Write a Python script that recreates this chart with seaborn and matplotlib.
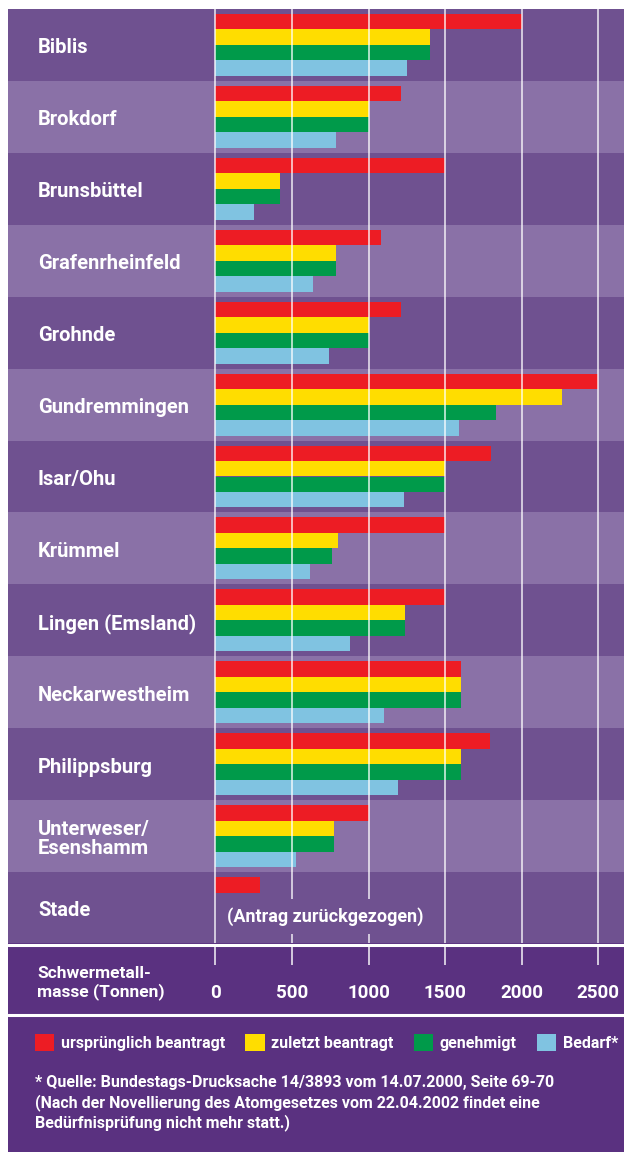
import numpy as np
import pandas as pd
import matplotlib.pyplot as plt
from matplotlib.patches import Patch
import seaborn as sns

# ---------------------------------------------------------
# data (Schwermetallmasse in Tonnen)
# ---------------------------------------------------------
plants = ["Biblis", "Brokdorf", "Brunsbüttel", "Grafenrheinfeld", "Grohnde",
          "Gundremmingen", "Isar/Ohu", "Krümmel", "Lingen (Emsland)",
          "Neckarwestheim", "Philippsburg", "Unterweser/\nEsenshamm", "Stade"]
urspruenglich = [2000, 1210, 1500, 1080, 1210, 2495, 1800, 1500, 1500, 1605, 1790, 1000, 295]
zuletzt       = [1400, 1000, 420, 790, 1000, 2260, 1500, 800, 1235, 1605, 1605, 775, np.nan]
genehmigt     = [1400, 1000, 420, 790, 1000, 1830, 1500, 765, 1235, 1605, 1605, 775, np.nan]
bedarf        = [1250, 790, 255, 640, 745, 1590, 1230, 615, 880, 1100, 1190, 530, np.nan]
series = ["ursprünglich beantragt", "zuletzt beantragt", "genehmigt", "Bedarf*"]
ticks = [0, 500, 1000, 1500, 2000, 2500]

colors = ["#ed1c24", "#ffdd00", "#009a4a", "#80c3e1"]
DARK, LIGHT, BOTTOM = "#6f5190", "#8a71a7", "#5a3180"

df = pd.DataFrame({"plant": plants, series[0]: urspruenglich, series[1]: zuletzt,
                   series[2]: genehmigt, series[3]: bedarf})
long = df.melt(id_vars="plant", var_name="status", value_name="tonnen").dropna()

# ---------------------------------------------------------
# layout helpers (pixel geometry of the 624x1152 picture)
# ---------------------------------------------------------
W, H = 624, 1152
X0, PX_T = 215.3, 383 / 2500          # pixel of value 0, pixels per tonne
xlo = (8 - X0) / PX_T
xhi = (W - X0) / PX_T
def xdata(px):
    return (px - X0) / PX_T

sns.set_theme(style="white")
plt.rcParams["font.family"] = ["Roboto", "DejaVu Sans"]
plt.rcParams["font.weight"] = "bold"

fig = plt.figure(figsize=(W / 100, H / 100), dpi=100, facecolor="white")

# ---------------------------------------------------------
# main chart
# ---------------------------------------------------------
ax = fig.add_axes([8 / W, 1 - 944 / H, (W - 8) / W, (944 - 9) / H])
for i in range(len(plants)):
    ax.axhspan(i - 0.5, i + 0.5, color=DARK if i % 2 == 0 else LIGHT, lw=0, zorder=0)

sns.barplot(data=long, x="tonnen", y="plant", hue="status", order=plants,
            hue_order=series, palette=colors, saturation=1, width=0.86,
            orient="y", linewidth=0, legend=False, ax=ax, zorder=2)

for t in ticks:
    ax.axvline(t, color="white", alpha=0.75, lw=1.3, zorder=3)

for i, name in enumerate(plants):
    ax.text(xdata(38), i + 0.04, name, color="white", fontsize=14.5, fontweight="bold",
            ha="left", va="center", linespacing=1.05, zorder=4)

ax.text(xdata(227), len(plants) - 1 + 0.12, "(Antrag zurückgezogen)", color="white",
        fontsize=13, fontweight="bold", ha="left", va="center", zorder=4,
        bbox=dict(boxstyle="square,pad=0.45", fc=DARK, ec="none"))

ax.set_xlim(xlo, xhi)
ax.set_ylim(len(plants) - 0.5, -0.5)
ax.set_axis_off()

# ---------------------------------------------------------
# axis band + legend + source
# ---------------------------------------------------------
ax2 = fig.add_axes([8 / W, 0, (W - 8) / W, (H - 943) / H])
ax2.set_facecolor(BOTTOM)
ax2.set_xlim(xlo, xhi)
ax2.set_ylim(H, 943)
for s in ax2.spines.values():
    s.set_visible(False)
ax2.set_xticks([])
ax2.set_yticks([])

ax2.axhline(944.5, color="white", lw=2.2)
ax2.axhline(1015, color="white", lw=2.2)
ax2.vlines(ticks, 945, 965, color="white", alpha=0.8, lw=1.3)
for t in ticks:
    ax2.text(t, 993, f"{t}", color="white", fontsize=13.5, fontweight="bold",
             ha="center", va="center")
ax2.text(xdata(37), 983, "Schwermetall-\nmasse (Tonnen)", color="white", fontsize=12.5,
         fontweight="bold", ha="left", va="center", linespacing=1.15)

handles = [Patch(facecolor=c, edgecolor="none") for c in colors]
fig.legend(handles, series, loc="upper left", bbox_to_anchor=(35 / W, 1 - 1034 / H),
           ncol=4, frameon=False, borderpad=0, borderaxespad=0, handlelength=1.2,
           handleheight=1.25, handletextpad=0.4, columnspacing=1.3,
           prop={"size": 11.5, "weight": "bold"}, labelcolor="white")

ax2.text(xdata(35), 1103,
         "* Quelle: Bundestags-Drucksache 14/3893 vom 14.07.2000, Seite 69-70\n"
         "(Nach der Novellierung des Atomgesetzes vom 22.04.2002 findet eine\n"
         "Bedürfnisprüfung nicht mehr statt.)",
         color="white", fontsize=11.5, fontweight="bold", ha="left", va="center",
         linespacing=1.3)

fig.savefig("out.png", dpi=100, facecolor="white")
